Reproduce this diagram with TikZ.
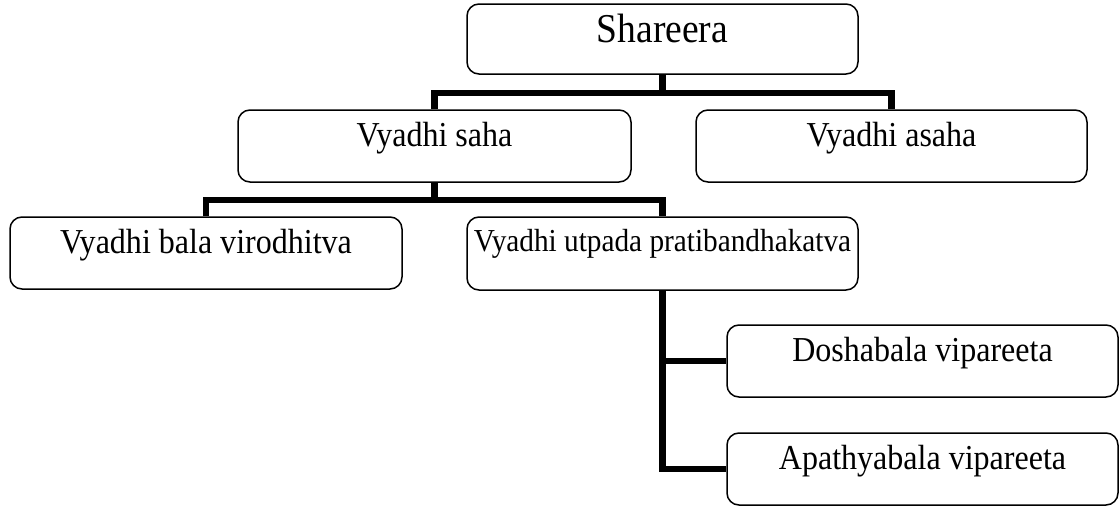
\documentclass[tikz,border=0pt]{standalone}
\usepackage{graphicx}
\usepackage{fontspec}
\setmainfont{Liberation Serif}
\newcommand\condtext[1]{\scalebox{0.915}[1]{#1}}
\begin{document}
\begin{tikzpicture}[x=1pt,y=-1pt,
  box/.style={draw=black, line width=1.5pt, rounded corners=12pt, inner sep=0pt,
    minimum width=391pt, minimum height=72pt, text height=36pt, text depth=36pt,
    align=center, font=\fontsize{35}{38}\selectfont},
  conn/.style={draw=black, line width=6.5pt, line join=miter}]
\useasboundingbox (0,0) rectangle (1119,506);
\node[box, minimum height=70pt, text height=38pt, text depth=32pt,
  font=\fontsize{41}{44}\selectfont] (sh) at (662.5,39) {\condtext{Shareera}};
\node[box, minimum width=393pt] (saha) at (434.5,146) {\condtext{Vyadhi saha}};
\node[box] (asaha) at (891.5,146) {\condtext{Vyadhi asaha}};
\node[box, minimum width=392pt] (bala) at (206,253) {\condtext{Vyadhi bala virodhitva}};
\node[box, minimum height=73pt, text height=34pt, text depth=39pt,
  font=\fontsize{32}{35}\selectfont] (utpada) at (662.5,253.5) {\condtext{Vyadhi utpada pratibandhakatva}};
\node[box] (dosha) at (922.5,361) {\condtext{Doshabala vipareeta}};
\node[box] (apathya) at (922.5,469) {\condtext{Apathyabala vipareeta}};
\coordinate (j1) at (662.5,93);
\coordinate (j2) at (434.5,200);
\draw[conn] (sh.south) -- (j1);
\draw[conn] (saha.north) |- (j1) -| (asaha.north);
\draw[conn] (saha.south) -- (j2);
\draw[conn] (bala.north) |- (j2) -| (utpada.north);
\draw[conn] (utpada.south) |- (dosha.west);
\draw[conn] (utpada.south) |- (apathya.west);
\end{tikzpicture}
\end{document}
